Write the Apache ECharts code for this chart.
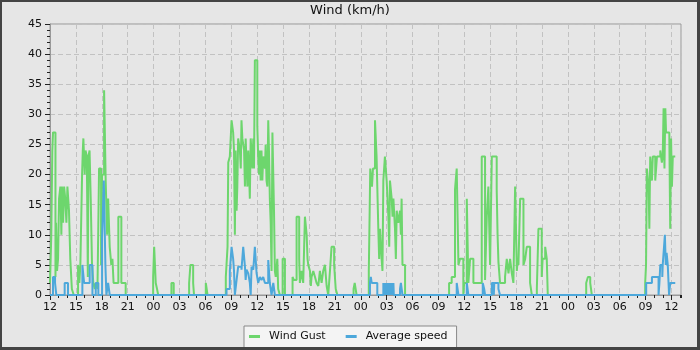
<!DOCTYPE html>
<html><head><meta charset="utf-8">
<script src="https://cdn.jsdelivr.net/npm/echarts@6/dist/echarts.min.js"></script>
<style>html,body{margin:0;padding:0;background:#e6e6e6}#c{width:700px;height:350px}</style>
</head><body><div id="c"></div><script>
// x values are minutes since 12:00 on the first day
const startHour = 12;
const xMaxMinutes = 4386;
const titleText = 'Wind (km/h)';
const seriesNames = ['Wind Gust', 'Average speed'];

const windGust = [
[0,2],[9,10],[16,24],[21,27],[38,3],[42,12],[49,4],[56,6],[63,16],[72,18],[79,10],[83,18],[91,12],[98,18],[106,16],[114,12],[121,18],[132,14],[141,6],[152,1],[165,0],[195,5],[204,2],[211,5],[223,20],[228,24],[232,26],[241,20],[247,24],[256,23],[263,3],[267,23],[275,24],[283,16],[292,5],[301,2],[311,1],[318,2],[330,1],[341,21],[355,5],[362,20],[376,34],[387,19],[397,10],[404,16],[415,8],[426,5],[434,6],[442,2],[475,13],[496,2],[526,0],
[717,3],[724,8],[735,2],[744,1],[752,0],[844,2],[860,0],[967,2],[976,5],[995,2],[1001,0],[1083,2],[1095,0],
[1222,3],[1234,8],[1239,22],[1250,23],[1262,29],[1273,27],[1279,24],[1285,10],[1290,24],[1297,14],[1302,18],[1308,26],[1320,24],[1326,21],[1331,29],[1337,26],[1349,24],[1355,18],[1360,26],[1366,22],[1372,18],[1378,24],[1383,21],[1389,16],[1395,26],[1407,21],[1413,26],[1418,21],[1424,39],[1441,28],[1447,23],[1453,20],[1459,24],[1464,19],[1470,24],[1476,19],[1482,23],[1494,21],[1499,25],[1505,19],[1511,18],[1517,29],[1522,24],[1528,16],[1534,12],[1540,4],[1546,27],[1557,14],[1563,4],[1569,3],[1580,6],[1586,1],[1598,0],[1617,6],[1633,0],
[1686,3],[1695,2.5],[1714,13],[1732,6],[1737,2],[1749,4],[1760,2],[1772,13],[1784,10],[1790,6],[1795,5],[1807,4],[1813,1.5],[1818,3],[1830,4],[1842,3],[1853,2],[1865,1.5],[1876,4],[1888,2],[1899,4],[1911,5],[1923,1.5],[1934,0],[1946,4],[1957,8],[1975,5],[1986,1],[1998,0],[2110,1],[2118,2],[2131,0],
[2216,4],[2222,14],[2226,21],[2238,18],[2245,21],[2259,29],[2270,23],[2282,11],[2288,6],[2294,11],[2305,6],[2311,4],[2317,19],[2328,23],[2340,19],[2352,13],[2358,8],[2363,19],[2375,16],[2381,13],[2387,16],[2398,11],[2404,6],[2410,14],[2421,12],[2433,14],[2439,10],[2444,16],[2450,5],[2468,0],
[2774,2],[2792,3],[2815,17.5],[2827,21],[2839,5],[2850,6],[2873,0],[2879,2],[2897,16],[2908,2],[2920,6],[2943,2],[3001,23],[3024,2.5],[3036,13],[3047,18],[3059,5],[3071,23],[3105,17.5],[3111,10],[3117,5.5],[3128,2],[3163,3],[3175,6],[3187,3.6],[3198,6],[3210,3.6],[3221,2],[3233,18],[3245,4],[3251,6],[3256,5],[3268,16],[3291,5],[3303,6],[3314,8],[3337,2],[3349,0],[3384,1],[3395,11],[3418,3],[3424,6],[3442,8],[3453,6],[3460,0],
[3727,2],[3739,3],[3755,2],[3766,0],
[4137,2],[4143,5],[4149,21],[4161,18],[4166,11],[4172,23],[4184,19],[4190,23],[4207,19],[4219,23],[4242,24],[4253,22],[4259,23],[4265,31],[4271,21],[4277,31],[4282,27],[4305,26],[4311,11],[4317,26],[4323,18],[4329,23],[4346,23]
];

const avgSpeed = [
[0,0],[21,3],[35,2],[44,0],[102,2],[125,0],[225,5],[237,2],[276,5],[295,0],[318,2],[336,0],[362,9.5],[374,19],[385,5],[392,0],[404,2],[415,0],
[1227,1],[1250,4],[1262,8],[1273,6],[1279,4],[1285,0],[1297,2.5],[1308,4.7],[1331,4.2],[1343,8],[1355,4.7],[1360,2.5],[1366,4.2],[1378,3.6],[1389,2],[1395,0],[1401,4.7],[1413,4.2],[1424,8],[1436,3.6],[1447,2],[1459,3],[1470,2.5],[1482,3],[1494,2],[1517,5.8],[1528,2],[1540,0],[1552,2],[1563,0],
[2224,2],[2230,3],[2236,2],[2275,0],
[2317,2],[2321,0],[2324,2],[2328,0],[2331,2],[2335,0],[2338,2],[2342,0],[2345,2],[2349,0],[2352,2],[2356,0],[2359,2],[2363,0],[2366,2],[2370,0],[2373,2],[2377,0],[2380,2],[2384,0],[2387,2],[2390,0],
[2433,1],[2439,2],[2450,0],
[2827,2],[2839,0],[2897,2],[2908,0],[3008,2],[3018,1],[3024,0],[3071,2],[3085,0],[3088,2],[3117,1],[3128,0],
[4144,2],[4184,3],[4230,0],[4236,2],[4242,5],[4256,3],[4259,5],[4265,7],[4274,10],[4280,5],[4286,7],[4294,5],[4303,0],[4311,2],[4346,2]
];

const FONT = 'DejaVu Sans';
const chart = echarts.init(document.getElementById('c'), null, {renderer: 'canvas'});
const pad = n => (n < 10 ? '0' : '') + n;
chart.setOption({
  animation: false,
  backgroundColor: '#e6e6e6',
  title: {text: titleText, left: 'center', top: 4, padding: 0,
    textStyle: {fontFamily: FONT, fontSize: 13, fontWeight: 'normal', color: '#111'}},
  legend: {
    left: 244, top: 326, padding: [5, 9, 6, 5], itemGap: 20, itemWidth: 11, itemHeight: 3,
    backgroundColor: '#f4f4f4', borderColor: '#888', borderWidth: 1,
    textStyle: {fontFamily: FONT, fontSize: 11, color: '#111', padding: [0, 0, 0, 4]},
    data: [{name: seriesNames[0], icon: 'rect'}, {name: seriesNames[1], icon: 'rect'}]
  },
  grid: {left: 50, right: 19, top: 24, bottom: 55, show: true, backgroundColor: '#e6e6e6', borderColor: '#999', borderWidth: 1},
  xAxis: [
    {type: 'value', min: 0, max: xMaxMinutes, interval: 60, position: 'bottom',
     axisLine: {show: false}, axisTick: {show: true, length: 3, lineStyle: {color: '#222'}},
     axisLabel: {show: false}, splitLine: {show: false}},
    {type: 'value', min: 0, max: xMaxMinutes, interval: 180, position: 'bottom',
     axisLine: {show: true, onZero: false, lineStyle: {color: '#999'}},
     axisTick: {show: true, length: 5, lineStyle: {color: '#222'}},
     axisLabel: {show: true, margin: 7, showMaxLabel: false, fontFamily: FONT, fontSize: 11, color: '#111',
       formatter: v => (v % 180 === 0 ? pad(Math.round(startHour + v / 60) % 24) : '')},
     splitLine: {show: true, lineStyle: {color: '#c2c2c2', type: [5, 3], width: 1}}}
  ],
  yAxis: {type: 'value', min: 0, max: 45, interval: 5,
    axisLine: {show: true, lineStyle: {color: '#999'}},
    axisTick: {show: true, length: 5, lineStyle: {color: '#222'}},
    minorTick: {show: true, splitNumber: 5, length: 3, lineStyle: {color: '#222'}},
    axisLabel: {fontFamily: FONT, fontSize: 11, color: '#111', margin: 8},
    splitLine: {show: true, lineStyle: {color: '#c2c2c2', type: [5, 3], width: 1}}},
  series: [
    {name: seriesNames[0], type: 'line', xAxisIndex: 1, step: 'end', showSymbol: false, symbol: 'none',
     color: '#6dd66d', lineStyle: {width: 2, color: '#6dd66d'}, data: windGust, z: 2},
    {name: seriesNames[1], type: 'line', xAxisIndex: 1, step: 'end', showSymbol: false, symbol: 'none',
     color: '#4da8db', lineStyle: {width: 2, color: '#4da8db'}, data: avgSpeed, z: 3}
  ],
  graphic: [
    {type: 'rect', shape: {x: 0, y: 0, width: 700, height: 2}, style: {fill: '#444'}, z: 100, silent: true},
    {type: 'rect', shape: {x: 0, y: 0, width: 2, height: 350}, style: {fill: '#444'}, z: 100, silent: true},
    {type: 'rect', shape: {x: 697, y: 0, width: 3, height: 350}, style: {fill: '#444'}, z: 100, silent: true},
    {type: 'rect', shape: {x: 0, y: 347, width: 700, height: 3}, style: {fill: '#444'}, z: 100, silent: true}
  ]
});
</script></body></html>
